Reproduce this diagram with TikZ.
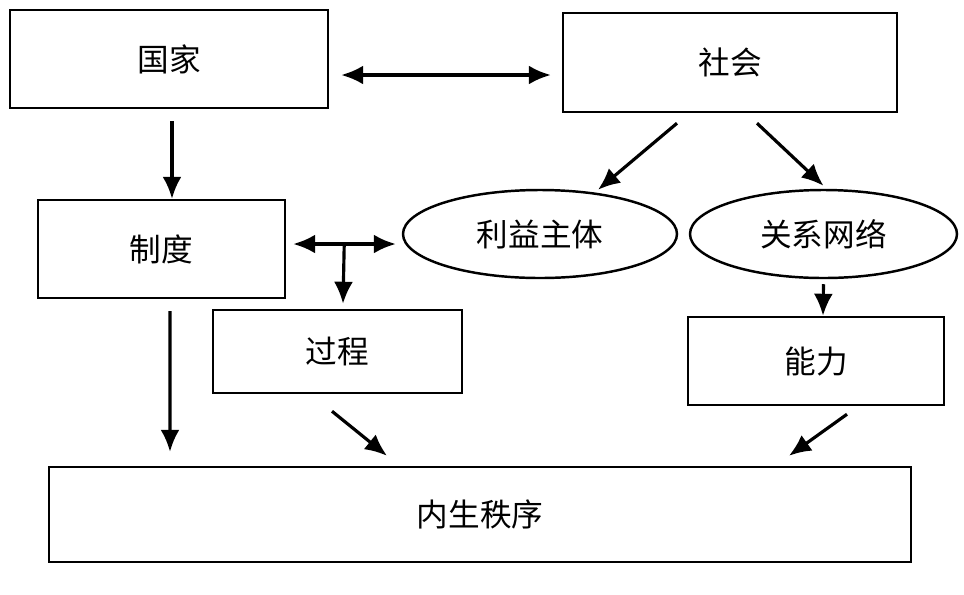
\documentclass[tikz,border=0pt]{standalone}
\usepackage{fontspec}
\newfontfamily\cjk{Noto Sans CJK SC}
\usetikzlibrary{shapes.geometric, arrows.meta, calc}

\begin{document}
\begin{tikzpicture}[
    box/.style={draw, line width=1.4pt, rectangle, inner sep=0pt, font=\cjk\fontsize{18}{22}\selectfont},
    oval/.style={draw, line width=1.4pt, ellipse, inner sep=0pt, font=\cjk\fontsize{18}{22}\selectfont},
    link/.style={line width=1.8pt, -{Latex[length=4.4mm,width=3.8mm]}},
    dlink/.style={line width=1.8pt, {Latex[length=4.4mm,width=3.8mm]}-{Latex[length=4.4mm,width=3.8mm]}}
]
    \useasboundingbox (0,0) rectangle (19.28,-11.88);

    % Top row
    \node[box, minimum width=6.36cm, minimum height=1.96cm] (guojia) at (3.38,-1.18) {国家};
    \node[box, minimum width=6.68cm, minimum height=1.98cm] (shehui) at (14.6,-1.25) {社会};

    % Middle row
    \node[box, minimum width=4.94cm, minimum height=1.96cm] (zhidu) at (3.23,-4.98) {制度};
    \node[oval, minimum width=5.48cm, minimum height=1.76cm] (liyi) at (10.8,-4.68) {利益主体};
    \node[oval, minimum width=5.34cm, minimum height=1.76cm] (guanxi) at (16.47,-4.68) {关系网络};

    % Lower row
    \node[box, minimum width=4.98cm, minimum height=1.66cm] (guocheng) at (6.75,-7.03) {过程};
    \node[box, minimum width=5.12cm, minimum height=1.76cm] (nengli) at (16.32,-7.22) {能力};

    % Bottom
    \node[box, minimum width=17.24cm, minimum height=1.9cm] (neisheng) at (9.6,-10.29) {内生秩序};

    % State <-> society
    \draw[dlink] ($(guojia.east)+(0.24,-0.32)$) -- ($(shehui.west)+(-0.22,-0.25)$);
    \draw[link] ($(guojia.south)+(0.06,-0.24)$) -- ($(zhidu.north)+(0.21,0)$);

    % Society splits
    \draw[link] ($(shehui.south)+(-1.06,-0.2)$) -- ($(liyi.north)+(1.16,-0.02)$);
    \draw[link] ($(shehui.south)+(0.54,-0.2)$) -- ($(guanxi.north)+(0,0.06)$);

    % Institutions <-> interest groups, branching down to process
    \coordinate (fork) at ($(zhidu.east)+(1.16,0.1)$);
    \draw[dlink] ($(zhidu.east)+(0.14,0.1)$) -- ($(liyi.west)+(-0.12,-0.2)$);
    \draw[link] (fork) -- ($(guocheng.north)+(0.11,0.1)$);

    % Into the endogenous order
    \draw[link] ($(zhidu.south)+(0.17,-0.24)$) -- ($(neisheng.north)+(-6.2,0.28)$);
    \draw[link] ($(guocheng.south)+(-0.11,-0.34)$) -- ($(neisheng.north)+(-1.86,0.2)$);
    \draw[link] ($(nengli.south)+(0.62,-0.16)$) -- ($(neisheng.north)+(6.18,0.2)$);
    \draw[link] ($(guanxi.south)+(0,-0.1)$) -- ($(nengli.north)+(0.14,0)$);
\end{tikzpicture}
\end{document}
